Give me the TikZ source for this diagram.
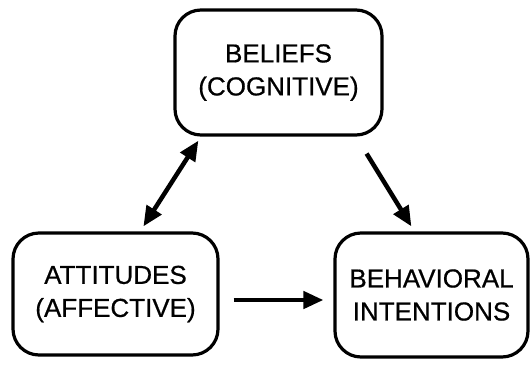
\documentclass[tikz,border=0pt]{standalone}
\usepackage{fontspec}
\setmainfont{Liberation Sans}[FakeBold=0.6]
\usetikzlibrary{arrows.meta,calc}
\begin{document}
\begin{tikzpicture}[x=1pt,y=-1pt,
  box/.style={draw, line width=3.2pt, rounded corners=26pt, align=center,
    font=\fontsize{26}{33}\selectfont, inner sep=0pt},
  tip/.tip={Triangle[length=20pt,width=17pt]},
  link/.style={line width=4.5pt, -tip}]
\useasboundingbox (0,0) rectangle (531,365);
% the three constructs
\node[box, minimum width=207pt, minimum height=125pt] (bel) at (278.5,72.5) {BELIEFS\\(COGNITIVE)};
\node[box, minimum width=205pt, minimum height=122pt] (att) at (115.5,294) {ATTITUDES\\(AFFECTIVE)};
\node[box, minimum width=193pt, minimum height=124pt] (beh) at (431.5,295) {BEHAVIORAL\\INTENTIONS};
% relations between them
\draw[link, tip-tip] ($(bel.south west)+(25,4)$) -- ($(att.north west)+(132,-5)$);
\draw[link] ($(bel.south east)+(-17,17)$) -- ($(beh.north west)+(78,-5)$);
\draw[link] ($(att.east)+(14,6)$) -- ($(beh.west)+(-10,5)$);
\end{tikzpicture}
\end{document}
